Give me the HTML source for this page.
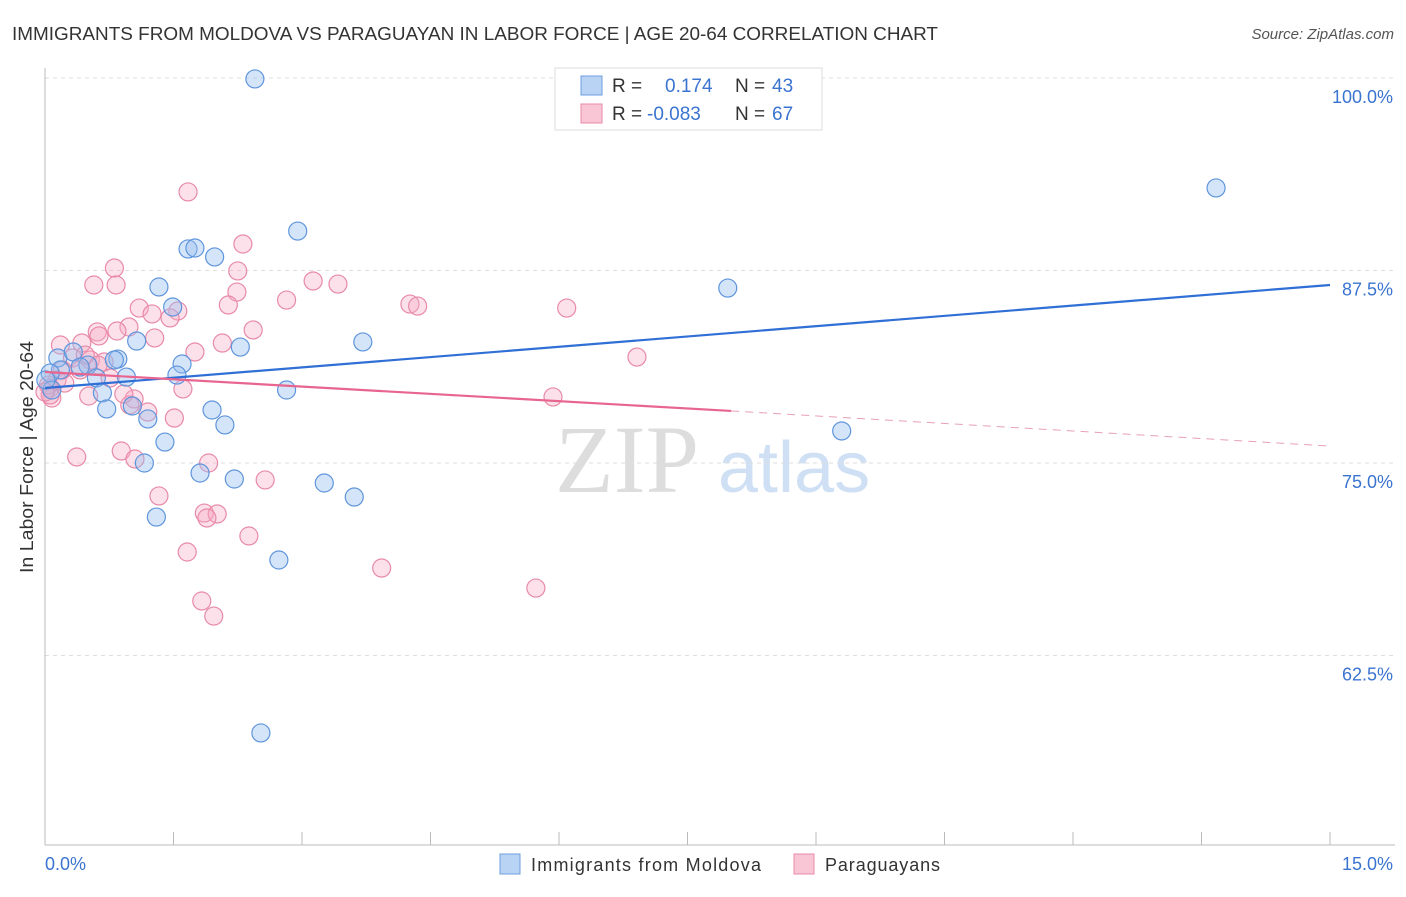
<!DOCTYPE html>
<html><head><meta charset="utf-8"><style>
body{margin:0;background:#fff;font-family:"Liberation Sans",sans-serif}
</style></head><body>
<svg id="c" width="1406" height="892" xmlns="http://www.w3.org/2000/svg" style="font-family:'Liberation Sans',sans-serif">
<text x="12" y="40" font-size="18" fill="#333" textLength="926" lengthAdjust="spacingAndGlyphs">IMMIGRANTS FROM MOLDOVA VS PARAGUAYAN IN LABOR FORCE | AGE 20-64 CORRELATION CHART</text>
<text x="1394" y="39" font-size="15" fill="#555" text-anchor="end" font-style="italic">Source: ZipAtlas.com</text>
<text x="555" y="492" font-size="96" fill="#ddd" font-family="Liberation Serif,serif">ZIP</text>
<text x="718" y="492" font-size="72" fill="#cfe0f5">atlas</text>
<text transform="translate(33,457) rotate(-90)" font-size="18" fill="#333" text-anchor="middle" textLength="232" lengthAdjust="spacingAndGlyphs">In Labor Force | Age 20-64</text>
<g id="grid"></g><g id="pts"></g><g id="lines"></g>
<g>
<rect x="555" y="68" width="267" height="62" fill="#fff" stroke="#ddd"/>
<rect x="581" y="76" width="21" height="19" fill="#b9d3f5" stroke="#6d9fe0"/>
<rect x="581" y="104" width="21" height="19" fill="#f8c6d5" stroke="#e88aa8"/>
<text x="612" y="92" font-size="19" fill="#333">R =</text><text x="665" y="92" font-size="19" fill="#3a74d0">0.174</text>
<text x="735" y="92" font-size="19" fill="#333">N =</text><text x="772" y="92" font-size="19" fill="#3a74d0">43</text>
<text x="612" y="120" font-size="19" fill="#333">R =</text><text x="647" y="120" font-size="19" fill="#3a74d0">-0.083</text>
<text x="735" y="120" font-size="19" fill="#333">N =</text><text x="772" y="120" font-size="19" fill="#3a74d0">67</text>
</g>
<g>
<rect x="500" y="854" width="20" height="20" fill="#b9d3f5" stroke="#6d9fe0"/>
<text x="531" y="871" font-size="18" fill="#333" textLength="230">Immigrants from Moldova</text>
<rect x="794" y="854" width="20" height="20" fill="#f8c6d5" stroke="#e88aa8"/>
<text x="825" y="871" font-size="18" fill="#333" textLength="115">Paraguayans</text>
</g>
<text x="45" y="870" font-size="18" fill="#3a74d0">0.0%</text>
<text x="1393" y="870" font-size="18" fill="#3a74d0" text-anchor="end">15.0%</text>
</svg>
<script>
const yTicks=[100,87.5,75,62.5];
const yTickLabels=["100.0%","87.5%","75.0%","62.5%"];
const xTicks=[0,1.5,3,4.5,6,7.5,9,10.5,12,13.5,15];
const blueX=[2.45,13.67,2.95,1.67,1.75,1.98,1.33,7.97,1.49,3.71,1.07,2.28,0.15,0.33,0.85,0.81,1.60,0.50,0.18,0.41,1.54,0.60,0.95,0.06,2.82,0.08,0.67,1.02,0.72,1.95,1.20,2.10,9.30,1.40,1.16,1.81,2.21,3.26,3.61,1.30,2.73,2.52,0.01];
const blueY=[99.94,92.86,90.06,88.90,88.96,88.38,86.43,86.36,85.13,82.86,82.92,82.53,81.82,82.21,81.75,81.69,81.43,81.36,81.04,81.23,80.71,80.52,80.58,80.84,79.74,79.74,79.55,78.70,78.51,78.44,77.86,77.47,77.08,76.36,75.00,74.35,73.96,73.70,72.79,71.49,68.70,57.47,80.39];
const pinkX=[1.67,2.31,0.81,2.25,0.57,0.83,3.42,3.13,2.24,2.82,2.14,4.26,4.35,6.09,1.10,1.25,1.55,1.46,0.98,2.43,0.61,0.84,0.63,1.28,2.07,0.18,0.43,1.75,6.91,0.32,0.53,0.69,0.41,0.76,0.14,0.23,0.06,0.08,0.51,1.04,0.99,1.20,1.51,1.61,0.92,5.93,0.89,0.37,1.05,1.91,2.57,1.33,1.86,2.01,1.89,2.38,1.66,3.93,5.73,1.83,1.97,0.06,0.04,0.20,0.00,0.62,0.47];
const pinkY=[92.60,89.22,87.66,87.47,86.56,86.56,86.62,86.82,86.10,85.58,85.26,85.32,85.19,85.06,85.06,84.68,84.87,84.42,83.83,83.64,83.51,83.57,83.25,83.12,82.79,82.66,82.79,82.21,81.88,81.82,81.69,81.56,81.04,80.52,80.39,80.19,79.87,79.22,79.35,79.16,78.77,78.31,77.92,79.81,79.48,79.29,75.78,75.39,75.26,75.00,73.90,72.86,71.75,71.69,71.43,70.26,69.22,68.18,66.88,66.04,65.06,79.42,80.06,81.04,79.61,81.36,82.01];
const blueTrendX=[0,15];
const blueTrendY=[79.87,86.56];
const pinkTrendX=[0,8.01,15];
const pinkTrendY=[80.91,78.38,76.10];
const NS="http://www.w3.org/2000/svg";
const xs=v=>45+v/15*1285;
const ys=v=>78+(100-v)/12.5*192.5;
function mk(tag,attrs,parent){const e=document.createElementNS(NS,tag);for(const k in attrs)e.setAttribute(k,attrs[k]);parent.appendChild(e);return e;}
const grid=document.getElementById('grid');
yTicks.forEach((t,i)=>{
  const l=mk('line',{x1:45,x2:1395,y1:ys(t),y2:ys(t),stroke:'#ddd','stroke-dasharray':'4,4'},grid);
  
  
  const tx=mk('text',{x:1393,y:ys(t)+25,'font-size':18,fill:'#3a74d0','text-anchor':'end'},grid);
  tx.textContent=yTickLabels[i];
  
  
});
const ax=mk('line',{x1:45,x2:45,y1:68,y2:845,stroke:'#bbb'},grid);


const bx=mk('line',{x1:45,x2:1395,y1:845,y2:845,stroke:'#bbb'},grid);


xTicks.forEach(t=>{
  const l=mk('line',{x1:xs(t),x2:xs(t),y1:832,y2:845,stroke:'#bbb'},grid);
  
  
});
const pts=document.getElementById('pts');
pinkX.forEach((x,i)=>{
  const c=mk('circle',{cx:xs(x),cy:ys(pinkY[i]),r:9,fill:'rgba(245,170,195,0.35)',stroke:'#e88aa8','stroke-width':1.2},pts);
  
  
});
blueX.forEach((x,i)=>{
  const c=mk('circle',{cx:xs(x),cy:ys(blueY[i]),r:9,fill:'rgba(150,190,240,0.4)',stroke:'#5f95dc','stroke-width':1.2},pts);
  
  
});
const lines=document.getElementById('lines');
const bl=mk('line',{x1:xs(blueTrendX[0]),y1:ys(blueTrendY[0]),x2:xs(blueTrendX[1]),y2:ys(blueTrendY[1]),stroke:'#2f6fd6','stroke-width':2.2},lines);


const pl=mk('line',{x1:xs(pinkTrendX[0]),y1:ys(pinkTrendY[0]),x2:xs(pinkTrendX[1]),y2:ys(pinkTrendY[1]),stroke:'#e8658f','stroke-width':2.2},lines);


const pd=mk('line',{x1:xs(pinkTrendX[1]),y1:ys(pinkTrendY[1]),x2:xs(pinkTrendX[2]),y2:ys(pinkTrendY[2]),stroke:'#e8a0b8','stroke-width':1,'stroke-dasharray':'8,6'},lines);


</script>
</body></html>
